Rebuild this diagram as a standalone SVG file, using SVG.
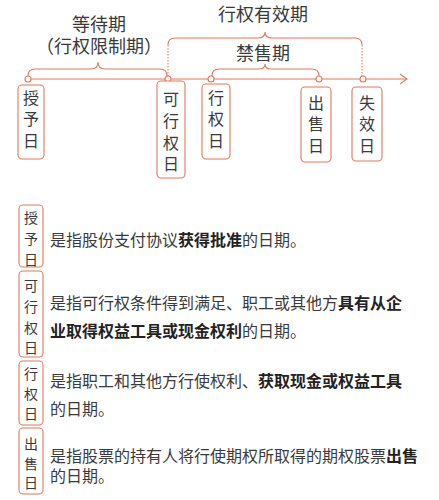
<svg xmlns="http://www.w3.org/2000/svg" width="439" height="500" viewBox="0 0 439 500">
<style>
.ln{fill:none;stroke:#e2785c;stroke-width:1.1}
.dot{fill:none;stroke:#e2785c;stroke-width:1;stroke-dasharray:1.5 1.5}
.c{fill:#fff;stroke:#e2785c;stroke-width:1.1}
.bx{fill:#fff;stroke:#e2785c;stroke-width:1.1}
text{font-family:"Noto Sans CJK SC","Noto Sans",sans-serif;fill:#3a3a3a;dominant-baseline:central}
.t{font-size:18px;text-anchor:middle}
.v{font-size:16px;text-anchor:middle}
.s{font-size:14px;text-anchor:middle}
.d{font-size:16px}
.b{font-weight:bold;fill:#222}
</style>
<rect width="439" height="500" fill="#fff"/>
<g id="connectors">
<line class="ln" x1="28" y1="79" x2="407" y2="79"/>
<polyline class="ln" points="400,74 407,79 400,84"/>
<path class="ln" d="M28,76 Q28,69 35,69 L91,69 Q98,69 98,62 Q98,69 105,69 L160,69 Q167,69 167,76"/>
<path class="ln" d="M168,45 Q168,38 175,38 L258,38 Q265,38 265,32 Q265,38 272,38 L355,38 Q362,38 362,45"/>
<line class="dot" x1="168" y1="45" x2="168" y2="77"/>
<line class="dot" x1="362" y1="45" x2="362" y2="77"/>
<path class="ln" d="M212,76 Q212,69 219,69 L259,69 Q265,69 265,64 Q265,69 271,69 L312,69 Q319,69 319,76"/>
<circle class="c" cx="28" cy="79" r="3"/>
<circle class="c" cx="168" cy="79" r="3"/>
<circle class="c" cx="211" cy="79" r="3"/>
<circle class="c" cx="319" cy="79" r="3"/>
<circle class="c" cx="363" cy="79" r="3"/>
</g>
<g id="labels">
<text class="t" x="99" y="23">等待期</text>
<text class="t" x="99" y="45">（行权限制期）</text>
<text class="t" x="263" y="13">行权有效期</text>
<text class="t" x="263" y="52">禁售期</text>
</g>
<g id="grant">
<rect class="bx" x="18" y="85" width="26" height="74" rx="4"/>
<text class="v" x="31" y="97">授</text><text class="v" x="31" y="118">予</text><text class="v" x="31" y="140">日</text>
</g>
<g id="vesting">
<rect class="bx" x="157" y="81" width="28" height="97" rx="4"/>
<text class="v" x="171" y="98">可</text><text class="v" x="171" y="120">行</text><text class="v" x="171" y="142">权</text><text class="v" x="171" y="163">日</text>
</g>
<g id="exercise">
<rect class="bx" x="202" y="84" width="28" height="75" rx="4"/>
<text class="v" x="216" y="97">行</text><text class="v" x="216" y="118">权</text><text class="v" x="216" y="140">日</text>
</g>
<g id="sale">
<rect class="bx" x="301" y="87" width="30" height="75" rx="4"/>
<text class="v" x="316" y="102">出</text><text class="v" x="316" y="123">售</text><text class="v" x="316" y="145">日</text>
</g>
<g id="expiry">
<rect class="bx" x="352" y="87" width="30" height="74" rx="4"/>
<text class="v" x="367" y="102">失</text><text class="v" x="367" y="123">效</text><text class="v" x="367" y="145">日</text>
</g>
<g id="def-grant">
<rect class="bx" x="19" y="205" width="24" height="62" rx="4"/>
<text class="s" x="31" y="217">授</text><text class="s" x="31" y="238">予</text><text class="s" x="31" y="259">日</text>
<text class="d" x="50" y="239">是指股份支付协议<tspan class="b">获得批准</tspan>的日期。</text>
</g>
<g id="def-vesting">
<rect class="bx" x="19" y="271" width="24" height="86" rx="4"/>
<text class="s" x="31" y="285">可</text><text class="s" x="31" y="306">行</text><text class="s" x="31" y="327">权</text><text class="s" x="31" y="347">日</text>
<text class="d" x="50" y="302">是指可行权条件得到满足、职工或其他方<tspan class="b">具有从企</tspan></text>
<text class="d" x="50" y="330"><tspan class="b">业取得权益工具或现金权利</tspan>的日期。</text>
</g>
<g id="def-exercise">
<rect class="bx" x="19" y="361" width="24" height="64" rx="4"/>
<text class="s" x="31" y="373">行</text><text class="s" x="31" y="393">权</text><text class="s" x="31" y="413">日</text>
<text class="d" x="50" y="380">是指职工和其他方行使权利、<tspan class="b">获取现金或权益工具</tspan></text>
<text class="d" x="50" y="408">的日期。</text>
</g>
<g id="def-sale">
<rect class="bx" x="19" y="428" width="24" height="66" rx="4"/>
<text class="s" x="31" y="443">出</text><text class="s" x="31" y="463">售</text><text class="s" x="31" y="482">日</text>
<text class="d" x="50" y="455">是指股票的持有人将行使期权所取得的期权股票<tspan class="b">出售</tspan></text>
<text class="d" x="50" y="475">的日期。</text>
</g>
</svg>
